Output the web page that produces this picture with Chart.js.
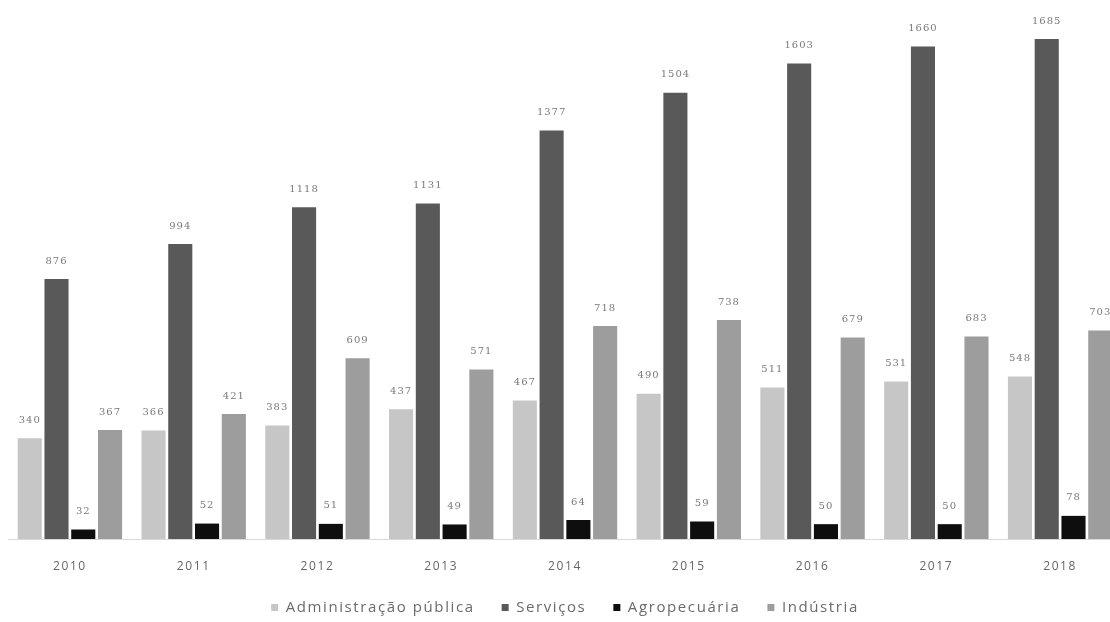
<!DOCTYPE html>
<html lang="pt">
<head>
<meta charset="utf-8">
<title>Setores 2010-2018</title>
<script src="https://cdn.jsdelivr.net/npm/chart.js@4"></script>
<style>
  html, body { margin: 0; padding: 0; background: #fff; overflow: hidden; }
  #wrap { position: absolute; left: 0; top: 0; width: 1122px; height: 622px; }
</style>
</head>
<body>
<div id="wrap"><canvas id="grafico" width="1122" height="622"></canvas></div>
<script>
// Dados por ano
const anos = ["2010", "2011", "2012", "2013", "2014", "2015", "2016", "2017", "2018"];
const adminPublica = [340, 366, 383, 437, 467, 490, 511, 531, 548];
const servicos = [876, 994, 1118, 1131, 1377, 1504, 1603, 1660, 1685];
const agropecuaria = [32, 52, 51, 49, 64, 59, 50, 50, 78];
const industria = [367, 421, 609, 571, 718, 738, 679, 683, 703];

// Espaçamento entre letras para todos os textos do gráfico
const espacamento = {
    id: "espacamento",
    beforeLayout(chart) { chart.ctx.letterSpacing = "1.6px"; },
    beforeDraw(chart) { chart.ctx.letterSpacing = "1.6px"; }
};

// Escreve o valor acima de cada barra
const rotulosValores = {
    id: "rotulosValores",
    afterDatasetsDraw(chart) {
        const ctx = chart.ctx;
        ctx.save();
        ctx.letterSpacing = "1px";
        ctx.font = "10px 'DejaVu Serif'";
        ctx.fillStyle = "#7a7a7a";
        ctx.textAlign = "center";
        ctx.textBaseline = "bottom";
        chart.data.datasets.forEach((ds, i) => {
            const meta = chart.getDatasetMeta(i);
            meta.data.forEach((barra, j) => {
                ctx.fillText(ds.data[j], barra.x, barra.y - 13);
            });
        });
        ctx.restore();
    }
};

const ctx = document.getElementById("grafico").getContext("2d");

new Chart(ctx, {
    type: "bar",
    data: {
        labels: anos,
        datasets: [
            { label: "Administração pública", data: adminPublica, backgroundColor: "#c6c6c6" },
            { label: "Serviços", data: servicos, backgroundColor: "#595959" },
            { label: "Agropecuária", data: agropecuaria, backgroundColor: "#0e0e0e" },
            { label: "Indústria", data: industria, backgroundColor: "#9d9d9d" }
        ]
    },
    options: {
        responsive: false,
        devicePixelRatio: 1,
        animation: false,
        categoryPercentage: 0.865,
        barPercentage: 0.9,
        layout: { padding: { left: 8, right: 0, top: 5, bottom: 0 } },
        plugins: {
            tooltip: { enabled: false },
            legend: {
                position: "bottom",
                maxHeight: 49,
                labels: {
                    boxWidth: 7,
                    boxHeight: 7,
                    padding: 27,
                    color: "#6a6a6a",
                    font: { family: "'Open Sans'", size: 15 }
                }
            }
        },
        scales: {
            x: {
                grid: { display: false },
                border: { display: true, color: "#d9d9d9", width: 1 },
                ticks: {
                    color: "#666",
                    padding: 12,
                    font: { family: "'Open Sans'", size: 12 }
                },
                // altura fixa do eixo, só o necessário para os anos
                afterFit(escala) { escala.height = 34; }
            },
            y: {
                display: false,
                min: 0,
                max: 1800
            }
        }
    },
    plugins: [espacamento, rotulosValores]
});
</script>
</body>
</html>
